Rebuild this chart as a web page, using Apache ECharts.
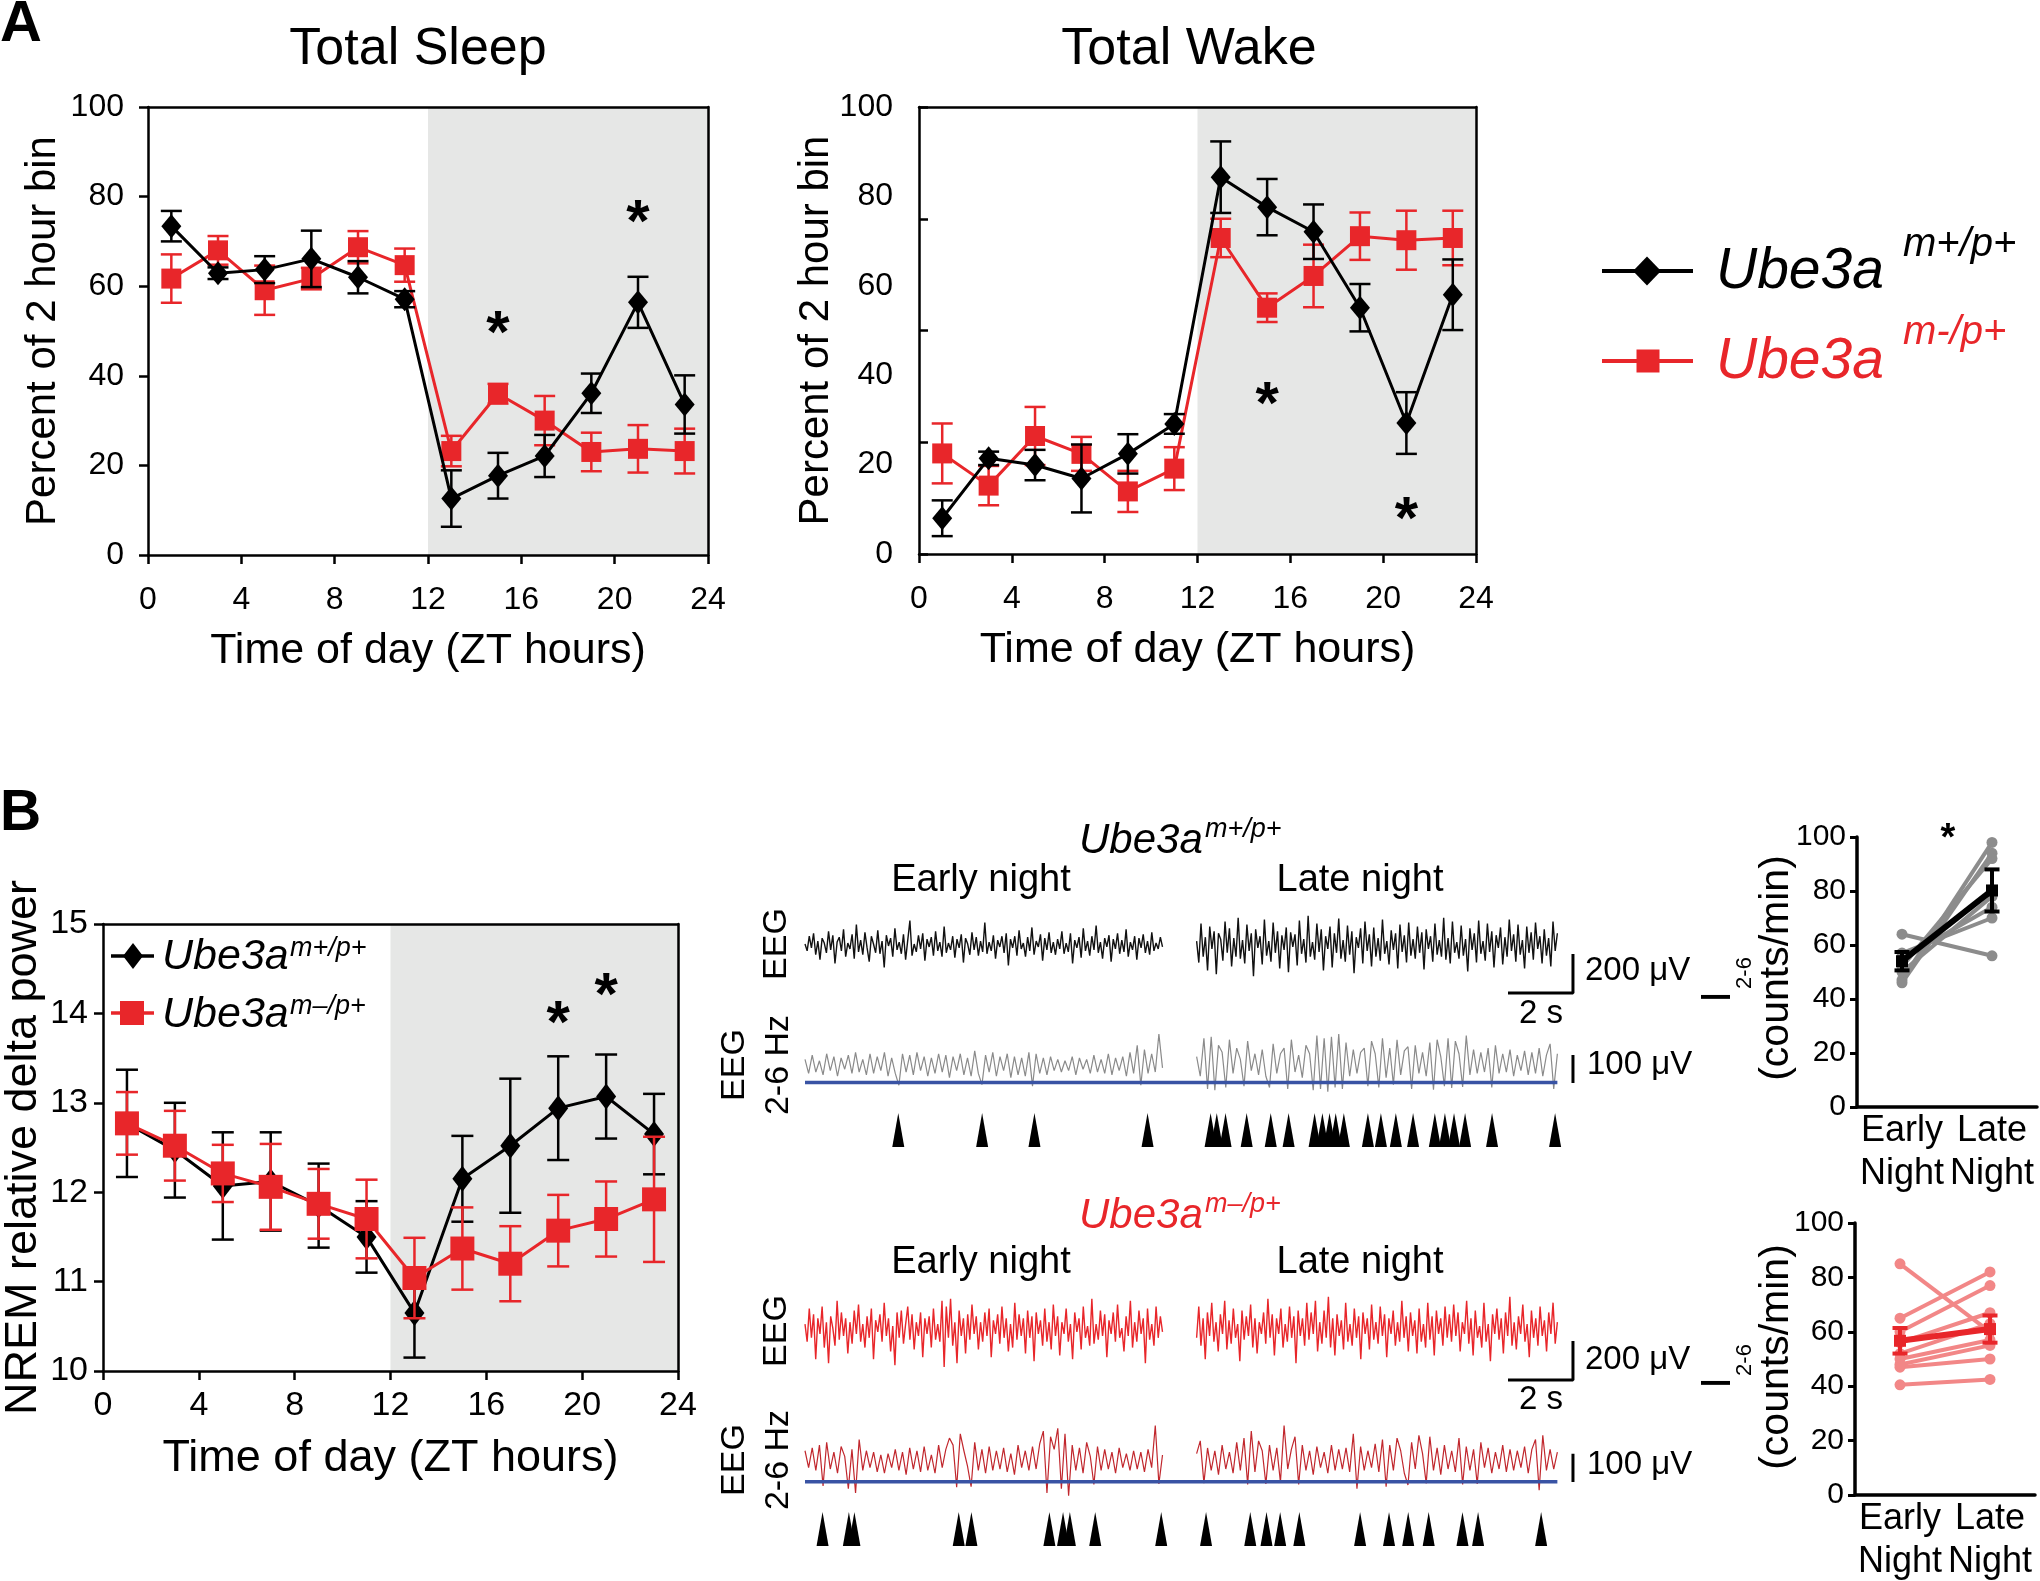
<!DOCTYPE html>
<html>
<head>
<meta charset="utf-8">
<script src="https://cdn.jsdelivr.net/npm/echarts@6/dist/echarts.min.js"></script>
<style>
html, body { margin: 0; padding: 0; background: #fff; }
#chart { width: 2040px; height: 1581px; }
</style>
</head>
<body>
<div id="chart"></div>
<script>
var FF = 'Arial, "Liberation Sans", Helvetica, sans-serif';
var RED = '#e8262a', SHADE = '#e6e7e6', BLUE = '#3953a4';

// ---- panel A / B time courses ----
var ztHours = [1, 3, 5, 7, 9, 11, 13, 15, 17, 19, 21, 23];
var sleepWT = [73.4, 62.9, 63.7, 66.1, 62.0, 57.1, 12.6, 17.7, 22.1, 36.1, 56.4, 33.6];
var sleepWTErr = [3.4, 1.3, 3.0, 6.3, 3.6, 1.8, 6.3, 5.1, 4.7, 4.4, 5.7, 6.5];
var sleepKO = [61.7, 68.0, 59.1, 61.7, 68.7, 64.7, 23.2, 36.0, 30.0, 23.0, 23.7, 23.2];
var sleepKOErr = [5.4, 3.2, 5.5, 2.4, 3.6, 3.7, 3.4, 2.2, 5.5, 4.3, 5.3, 5.0];
var wakeWT = [8.0, 21.4, 19.9, 16.9, 22.4, 29.1, 84.3, 77.6, 72.1, 55.1, 29.3, 58.0];
var wakeWTErr = [4.0, 1.5, 3.4, 7.6, 4.4, 2.2, 8.0, 6.3, 6.1, 5.3, 6.9, 7.9];
var wakeKO = [22.5, 15.3, 26.4, 22.4, 14.0, 19.1, 70.7, 55.1, 62.2, 71.1, 70.2, 70.7];
var wakeKOErr = [6.7, 4.4, 6.5, 3.8, 4.6, 4.8, 4.3, 3.2, 7.0, 5.3, 6.6, 6.1];
var deltaWT = [12.77, 12.47, 12.07, 12.12, 11.85, 11.50, 10.65, 12.15, 12.52, 12.94, 13.07, 12.65];
var deltaWTErr = [0.60, 0.53, 0.60, 0.55, 0.47, 0.40, 0.50, 0.48, 0.75, 0.58, 0.47, 0.45];
var deltaKO = [12.77, 12.52, 12.21, 12.06, 11.87, 11.70, 11.04, 11.37, 11.20, 11.57, 11.70, 11.92];
var deltaKOErr = [0.35, 0.39, 0.32, 0.48, 0.39, 0.44, 0.45, 0.46, 0.42, 0.40, 0.42, 0.70];
var sleepStars = [[15, 52.2], [21, 77.0]];
var wakeStars = [[15, 36.1], [21, 10.5]];
var deltaStars = [[19, 14.02], [21, 14.34]];

// ---- EEG example traces (uV), early segment 0-11 s, late 12.05-23.15 s ----
var wtRawEarly = [5,-30,45,-15,60,-50,20,-75,35,10,-40,70,-25,50,-95,15,40,-30,80,-60,10,-20,55,-70,105,-35,25,-50,65,-15,-85,45,5,-40,75,-45,20,-115,50,-5,35,-60,85,-25,15,-45,55,-75,25,125,-55,5,-35,50,-20,60,-80,30,-10,40,-55,70,-30,15,-60,95,-40,10,-25,45,-65,30,-15,55,-90,35,5,-50,65,-25,40,-55,20,-35,115,-45,15,-30,50,-70,25,-10,45,-40,60,-105,30,-15,45,-55,75,-20,10,-60,40,-30,90,-50,20,-10,55,-80,35,-25,65,-40,15,-50,30,-20,70,-45,10,-35,60,-95,25,-15,40,-65,85,-30,20,-55,45,-25,100,-40,15,-70,35,-10,50,-85,30,-20,60,-45,25,-35,80,-60,15,-25,45,-75,35,-15,55,-40,20,-50,65,-30,10,-20,40,-10];
var wtRawLate = [20,-90,110,-60,40,-130,95,-20,70,-150,60,30,-80,120,-40,85,-110,35,-60,140,-70,25,-95,105,-30,60,-160,80,-15,45,-100,130,-55,20,-85,115,-40,70,-120,50,-25,90,-140,65,-10,55,-105,125,-45,30,-90,150,-60,15,-75,110,-35,80,-130,45,-20,95,-115,60,-40,135,-70,25,-85,100,-50,70,-145,40,-15,85,-95,120,-30,55,-110,90,-60,35,-80,130,-45,20,-100,75,-25,60,-120,105,-35,50,-90,115,-55,30,-70,95,-40,65,-125,80,-20,45,-85,110,-50,25,-60,140,-75,35,-95,120,-40,15,-70,100,-55,30,-135,85,-25,60,-90,125,-45,20,-80,110,-35,70,-115,50,-15,90,-100,40,-60,130,-30,55,-85,105,-50,25,-120,95,-40,65,-75,115,-20,45,-95,80,-55,35,-110,120,-30,60];
var wtFiltEarly = [20,-30,35,-25,15,-35,40,-20,30,-40,25,-15,35,-30,45,-25,20,-35,40,-30,30,-20,45,-40,25,-30,-72,40,-25,35,-35,45,-20,30,-40,25,-30,40,-25,35,-45,30,-20,40,-35,25,-40,50,-30,-70,35,-25,45,-40,30,-20,40,-45,30,-35,25,-40,45,-75,40,-30,25,-35,30,-20,20,-25,15,-20,30,-35,25,-15,20,-30,35,-25,20,-30,40,-35,25,-20,30,-40,45,-30,70,-72,55,-30,40,-25,110,-10];
var wtFiltLate = [30,-40,95,-85,100,-90,70,45,-80,90,-30,60,20,-75,85,-20,40,-35,55,-40,-80,75,-30,40,60,-85,90,-25,35,-45,70,40,-90,105,-85,95,-95,100,-80,110,-85,80,-40,55,-30,45,60,-75,85,40,-80,95,-45,60,-70,90,-35,50,65,-85,70,-30,45,-40,80,-88,90,30,-75,95,-82,85,40,-78,105,-35,55,-30,45,-25,60,-80,70,-30,40,-25,55,-40,35,-20,50,-35,45,-30,60,-40,35,75,-85,40];
var koRawEarly = [30,-60,110,-40,80,-150,60,-20,120,-90,40,-170,70,10,-80,150,-50,90,-30,60,-120,40,-70,100,-20,130,-60,30,-90,70,-40,110,-150,50,-10,80,-60,140,-30,60,-110,20,-180,90,-40,100,-70,30,120,-50,80,-100,40,-30,90,-140,60,-20,70,-90,110,-50,30,-60,150,-190,120,-40,160,-80,40,-170,100,-30,60,-120,80,-50,130,-20,70,-100,40,-60,90,-30,110,-140,50,-20,80,-70,120,-40,60,-110,30,-90,140,-50,80,-30,60,-120,100,-40,70,-160,90,-20,50,-80,110,-60,40,-100,130,-30,70,-130,40,-20,110,-60,30,-150,90,-10,60,-100,120,-40,20,-80,160,-70,30,-50,100,-30,80,-140,50,-20,90,-60,130,-40,10,-110,70,-30,150,-90,40,-60,100,-20,60,-170,110,-50,30,-80,120,-40,70,-10];
var koRawLate = [-40,120,-80,60,-150,90,-30,140,-60,40,-110,80,-20,150,-100,50,-70,110,-40,30,-160,100,-50,70,-30,130,-90,60,-120,40,-20,90,-70,160,-40,80,-130,60,-20,110,-90,30,-60,120,-40,70,-170,100,-30,60,-80,140,-50,90,-20,150,-110,40,-70,100,-40,170,-90,60,-130,80,-30,50,-100,140,-60,30,-80,110,-40,70,-150,90,-20,60,-100,130,-50,40,-70,120,-30,80,-140,60,-20,100,-80,40,-60,150,-40,70,-110,90,-30,50,-120,110,-60,30,-90,140,-50,70,-130,100,-20,60,-80,120,-40,80,-60,130,-30,90,-110,40,-20,150,-70,60,-130,100,-40,20,-90,140,-60,30,-160,80,-20,110,-50,60,-120,90,-30,170,-80,40,-100,70,-20,130,-60,30,-140,100,-40,60,-80,120,-30,50,-110,90,-20,140,-70,40];
var koFiltEarly = [40,-20,50,-30,60,-85,70,-25,35,-40,55,20,-95,45,-110,80,-30,40,-20,35,-35,25,-40,30,-20,45,-30,35,-45,50,-25,40,-35,55,-30,25,-40,60,-20,45,85,60,-90,100,40,-15,-88,70,-30,45,-40,55,-30,40,-25,50,-35,30,-45,60,-20,40,-30,55,-25,65,110,-110,90,45,120,-95,100,-120,60,-30,50,-40,70,20,-80,55,-30,45,-25,35,-40,50,-20,30,-30,40,-25,35,-35,45,-20,130,-78,25];
var koFiltLate = [30,75,-75,50,-30,40,-45,60,-25,35,-40,70,-30,85,-80,110,-35,75,40,-78,60,-30,50,-72,130,-25,45,90,-80,60,-30,40,-45,55,-20,35,-40,60,-30,45,-25,50,-35,100,-95,55,-30,40,-20,65,-35,80,-88,60,-30,85,40,-40,-82,70,-25,95,30,-76,90,-30,50,-45,60,-25,40,-35,85,-80,55,-30,45,-78,70,-20,50,-40,35,-25,60,-35,45,-30,40,-20,55,-40,45,80,-100,95,-30,45,-25,35];
var wtThreshold = -62, koThreshold = -70;
// detected events (s)
var wtEvents = [2.87, 5.45, 7.06, 10.54, 12.48, 12.67, 12.94, 13.59, 14.33, 14.88, 15.68, 15.92, 16.14, 16.33, 16.58, 17.32, 17.72, 18.18, 18.71, 19.38, 19.69, 19.97, 20.31, 21.14, 23.08];
var koEvents = [0.54, 1.35, 1.52, 4.73, 5.12, 7.52, 7.94, 8.15, 8.93, 10.96, 12.34, 13.70, 14.20, 14.62, 15.21, 17.08, 17.97, 18.56, 19.19, 20.23, 20.71, 22.65];

// ---- I2-6 event rates ----
var nightCats = ['Early\nNight', 'Late\nNight'];
var wtEarly = [64, 47, 46, 52, 50, 55, 57];
var wtLate = [56, 98, 94, 92, 78, 74, 70];
var wtMean = [54.0, 80.2];
var wtErr = [3.4, 7.8];
var koEarly = [85, 65, 60, 56, 52, 50, 48, 47, 40.5];
var koLate = [60, 82, 77, 67, 63, 57, 55, 50, 42.5];
var koMean = [56.7, 61.0];
var koErr = [4.7, 5.0];

function zip(xs, ys) { return xs.map(function (x, i) { return [x, ys[i]]; }); }
function zip3(xs, ys, es) { return xs.map(function (x, i) { return [x, ys[i], es[i]]; }); }
function toXY(vals, t0, t1) {
  var n = vals.length;
  return vals.map(function (v, i) { return [t0 + (t1 - t0) * i / (n - 1), v]; });
}

function errBars(capW, color, lw) {
  return function (params, api) {
    var x = api.value(0), m = api.value(1), e = api.value(2);
    var hi = api.coord([x, m + e]), lo = api.coord([x, m - e]);
    var h = capW / 2, st = { stroke: color, lineWidth: lw };
    return { type: 'group', children: [
      { type: 'line', shape: { x1: hi[0], y1: hi[1], x2: lo[0], y2: lo[1] }, style: st },
      { type: 'line', shape: { x1: hi[0] - h, y1: hi[1], x2: hi[0] + h, y2: hi[1] }, style: st },
      { type: 'line', shape: { x1: lo[0] - h, y1: lo[1], x2: lo[0] + h, y2: lo[1] }, style: st }
    ] };
  };
}

function timeAxis(g, fs, nfs, margin, gap) {
  return { gridIndex: g, type: 'value', min: 0, max: 24, interval: 4, z: 10,
    axisLine: { show: true, onZero: false, lineStyle: { color: '#000', width: 2.5 } },
    axisTick: { show: true, length: 9, lineStyle: { color: '#000', width: 2.5 } },
    axisLabel: { fontSize: fs, color: '#000', fontFamily: FF, margin: margin },
    splitLine: { show: false },
    name: 'Time of day (ZT hours)', nameLocation: 'middle', nameGap: gap, nameMoveOverlap: false,
    nameTextStyle: { fontSize: nfs, color: '#000', fontFamily: FF } };
}
function valAxis(g, min, max, interval, fs, margin, name, nfs, gap) {
  return { gridIndex: g, type: 'value', min: min, max: max, interval: interval, z: 10,
    axisLine: { show: true, onZero: false, lineStyle: { color: '#000', width: 2.5 } },
    axisTick: { show: true, length: 9, lineStyle: { color: '#000', width: 2.5 } },
    axisLabel: { fontSize: fs, color: '#000', fontFamily: FF, margin: margin },
    splitLine: { show: false },
    name: name, nameLocation: 'middle', nameGap: gap, nameMoveOverlap: false,
    nameTextStyle: { fontSize: nfs, color: '#000', fontFamily: FF } };
}
function boxAxis(g, pos, min, max) {
  return { gridIndex: g, type: 'value', position: pos, min: min, max: max, z: 10,
    axisLine: { show: true, onZero: false, lineStyle: { color: '#000', width: 2.5 } },
    axisTick: { show: false }, axisLabel: { show: false }, splitLine: { show: false } };
}
function hidden(g, min, max) { return { gridIndex: g, type: 'value', min: min, max: max, show: false }; }
function nightX(g) {
  return { gridIndex: g, type: 'category', data: nightCats, boundaryGap: true, z: 10,
    axisLine: { show: true, lineStyle: { color: '#000', width: 3.5 } },
    axisTick: { show: false },
    axisLabel: { fontSize: 36, lineHeight: 43, color: '#000', fontFamily: FF, margin: 3, interval: 0 } };
}
function countY(g) {
  return { gridIndex: g, type: 'value', min: 0, max: 100, interval: 20, z: 10,
    axisLine: { show: true, lineStyle: { color: '#000', width: 3.5 } },
    axisTick: { show: true, length: 7, lineStyle: { color: '#000', width: 3 } },
    axisLabel: { fontSize: 30, color: '#000', fontFamily: FF, margin: 11 },
    splitLine: { show: false } };
}

var grids = [
  { left: 148, top: 107, width: 560, height: 448 },   // 0 sleep
  { left: 919, top: 107, width: 557, height: 447 },   // 1 wake
  { left: 103, top: 924, width: 575, height: 447 },   // 2 delta
  { left: 805, top: 880, width: 780, height: 130 },   // 3 wt raw
  { left: 805, top: 1020, width: 780, height: 90 },   // 4 wt 2-6 Hz
  { left: 805, top: 1113, width: 780, height: 34 },   // 5 wt events
  { left: 805, top: 1265, width: 780, height: 130 },  // 6 ko raw
  { left: 805, top: 1417, width: 780, height: 90 },   // 7 ko 2-6 Hz
  { left: 805, top: 1513, width: 780, height: 32 },   // 8 ko events
  { left: 1857, top: 837, width: 180, height: 270 },  // 9 wt rates
  { left: 1855, top: 1223, width: 180, height: 272 }  // 10 ko rates
];
grids.forEach(function (g) { g.outerBoundsMode = 'none'; g.containLabel = false; });

var xAxes = [
  timeAxis(0, 32, 43, 29, 75), boxAxis(0, 'top', 0, 24),
  timeAxis(1, 32, 43, 29, 75), boxAxis(1, 'top', 0, 24),
  timeAxis(2, 34, 45, 18, 65), boxAxis(2, 'top', 0, 24),
  hidden(3, 0, 24), hidden(4, 0, 24), hidden(5, 0, 24),
  hidden(6, 0, 24), hidden(7, 0, 24), hidden(8, 0, 24),
  nightX(9), nightX(10)
];
var wakeTicks = { gridIndex: 1, type: 'value', min: 0, max: 100, interval: 25, z: 10,
  axisLine: { show: false }, axisLabel: { show: false }, splitLine: { show: false },
  axisTick: { show: true, length: 9, lineStyle: { color: '#000', width: 2.5 } } };
var wakeLabels = valAxis(1, 0, 100, 20, 32, 26, 'Percent of 2 hour bin', 42, 82);
wakeLabels.axisTick = { show: false };
var yAxes = [
  valAxis(0, 0, 100, 20, 32, 24, 'Percent of 2 hour bin', 42, 84), boxAxis(0, 'right', 0, 100),
  wakeLabels, boxAxis(1, 'right', 0, 100), wakeTicks,
  valAxis(2, 10, 15, 1, 34, 15, 'NREM relative delta power', 45, 57), boxAxis(2, 'right', 10, 15),
  hidden(3, -333, 333), hidden(4, -160, 160), hidden(5, 0, 1),
  hidden(6, -333, 333), hidden(7, -160, 160), hidden(8, 0, 1),
  countY(9), countY(10)
];

var series = [];
function shade(xi, yi) {
  series.push({ type: 'line', xAxisIndex: xi, yAxisIndex: yi, data: [], z: 1, silent: true,
    markArea: { silent: true, itemStyle: { color: SHADE }, data: [[{ xAxis: 12 }, { xAxis: 24 }]] } });
}
function course(xi, yi, ys, es, color, symbol, size, cap, z) {
  series.push({ type: 'custom', xAxisIndex: xi, yAxisIndex: yi, data: zip3(ztHours, ys, es),
    renderItem: errBars(cap, color, 2.5), z: z, silent: true });
  series.push({ type: 'line', xAxisIndex: xi, yAxisIndex: yi, data: zip(ztHours, ys),
    symbol: symbol, symbolSize: size, showAllSymbol: true,
    lineStyle: { color: color, width: 3 }, itemStyle: { color: color, opacity: 1 }, z: z + 1, silent: true });
}
function stars(xi, yi, pts) {
  series.push({ type: 'scatter', xAxisIndex: xi, yAxisIndex: yi, data: pts, symbolSize: 1, z: 8, silent: true,
    itemStyle: { color: 'rgba(0,0,0,0)', opacity: 1 },
    label: { show: true, position: 'inside', formatter: '*', fontSize: 60, fontWeight: 'bold', opacity: 1,
      fontFamily: FF, color: '#000', offset: [0, 14] } });
}

shade(0, 0);
course(0, 0, sleepKO, sleepKOErr, RED, 'rect', 20, 21, 2);
course(0, 0, sleepWT, sleepWTErr, '#000', 'diamond', [20, 24], 21, 4);
stars(0, 0, sleepStars);

shade(2, 2);
course(2, 2, wakeKO, wakeKOErr, RED, 'rect', 20, 21, 2);
course(2, 2, wakeWT, wakeWTErr, '#000', 'diamond', [20, 24], 21, 4);
stars(2, 2, wakeStars);

shade(4, 5);
course(4, 5, deltaWT, deltaWTErr, '#000', 'diamond', [20, 26], 22, 2);
course(4, 5, deltaKO, deltaKOErr, RED, 'rect', 24, 22, 4);
stars(4, 5, deltaStars);

function eegRow(xr, yr, xf, yf, xe, ye, rawE, rawL, fE, fL, rawColor, fColor, thr, events, barLo, fBarLo) {
  [toXY(rawE, 0, 11), toXY(rawL, 12.05, 23.15)].forEach(function (d) {
    series.push({ type: 'line', xAxisIndex: xr, yAxisIndex: yr, data: d, symbol: 'none', silent: true,
      lineStyle: { color: rawColor, width: 1.4 } });
  });
  [toXY(fE, 0, 11), toXY(fL, 12.05, 23.15)].forEach(function (d) {
    series.push({ type: 'line', xAxisIndex: xf, yAxisIndex: yf, data: d, symbol: 'none', silent: true,
      lineStyle: { color: fColor, width: 1.2 } });
  });
  series.push({ type: 'line', xAxisIndex: xf, yAxisIndex: yf, data: [[0, thr], [23.15, thr]], symbol: 'none',
    silent: true, z: 3, lineStyle: { color: BLUE, width: 3.5 } });
  // scale bars: 2 s x 200 uV (raw), 100 uV (2-6 Hz)
  series.push({ type: 'line', xAxisIndex: xr, yAxisIndex: yr, symbol: 'none', silent: true,
    data: [[21.63, barLo], [23.63, barLo], [23.63, barLo + 200]], lineStyle: { color: '#000', width: 3 } });
  series.push({ type: 'line', xAxisIndex: xf, yAxisIndex: yf, symbol: 'none', silent: true,
    data: [[23.63, fBarLo], [23.63, fBarLo + 100]], lineStyle: { color: '#000', width: 3 } });
  series.push({ type: 'scatter', xAxisIndex: xe, yAxisIndex: ye, silent: true,
    data: events.map(function (t) { return [t, 0.5]; }),
    symbol: 'triangle', symbolSize: [12, 34], itemStyle: { color: '#000', opacity: 1 } });
}
eegRow(6, 7, 7, 8, 8, 9, wtRawEarly, wtRawLate, wtFiltEarly, wtFiltLate, '#111', '#8a8a8a', wtThreshold, wtEvents, -246, -64);
eegRow(9, 10, 10, 11, 11, 12, koRawEarly, koRawLate, koFiltEarly, koFiltLate, RED, '#c1272d', koThreshold, koEvents, -256, -71);

function rates(xi, yi, early, late, mean, err, light, dark) {
  early.forEach(function (v, i) {
    series.push({ type: 'line', xAxisIndex: xi, yAxisIndex: yi, data: [v, late[i]], silent: true,
      symbol: 'circle', symbolSize: 11, lineStyle: { color: light, width: 4 }, itemStyle: { color: light }, z: 2 });
  });
  series.push({ type: 'line', xAxisIndex: xi, yAxisIndex: yi, data: mean, silent: true,
    symbol: 'rect', symbolSize: 12, lineStyle: { color: dark, width: 6 }, itemStyle: { color: dark }, z: 4 });
  series.push({ type: 'custom', xAxisIndex: xi, yAxisIndex: yi, silent: true, z: 4,
    data: [[0, mean[0], err[0]], [1, mean[1], err[1]]], renderItem: errBars(15, dark, 4) });
}
rates(12, 13, wtEarly, wtLate, wtMean, wtErr, '#8c8c8c', '#000');
rates(13, 14, koEarly, koLate, koMean, koErr, '#f28787', RED);

// ---- text and legend graphics ----
function T(x, y, text, size, o) {
  o = o || {};
  var el = { type: 'text', x: x, y: y, z: 100, silent: true,
    style: { text: text, fontSize: size, fontFamily: FF, fill: o.fill || '#000',
      fontStyle: o.italic ? 'italic' : 'normal', fontWeight: o.bold ? 'bold' : 'normal',
      align: o.align || 'center', verticalAlign: 'middle' } };
  if (o.rot) el.rotation = o.rot;
  return el;
}
function L(x1, y1, x2, y2, c, w) {
  return { type: 'line', z: 100, silent: true, shape: { x1: x1, y1: y1, x2: x2, y2: y2 }, style: { stroke: c, lineWidth: w } };
}
function diamond(cx, cy, w, h) {
  return { type: 'polygon', z: 101, silent: true,
    shape: { points: [[cx, cy - h / 2], [cx + w / 2, cy], [cx, cy + h / 2], [cx - w / 2, cy]] }, style: { fill: '#000' } };
}
function square(cx, cy, s, c) {
  return { type: 'rect', z: 101, silent: true, shape: { x: cx - s / 2, y: cy - s / 2, width: s, height: s }, style: { fill: c } };
}
var R90 = Math.PI / 2;
var graphics = [
  T(0, 25, 'A', 58, { bold: true, align: 'left' }),
  T(0, 814, 'B', 57, { bold: true, align: 'left' }),
  T(418, 50, 'Total Sleep', 52),
  T(1189, 50, 'Total Wake', 52),
  // legend A
  L(1602, 271, 1693, 271, '#000', 4), diamond(1647, 271, 28, 29),
  T(1716, 272, 'Ube3a', 57, { italic: true, align: 'left' }),
  T(1903, 245, 'm+/p+', 40, { italic: true, align: 'left' }),
  L(1602, 361, 1693, 361, RED, 4), square(1648, 361, 23, RED),
  T(1716, 362, 'Ube3a', 57, { italic: true, align: 'left', fill: RED }),
  T(1903, 333, 'm-/p+', 40, { italic: true, align: 'left', fill: RED }),
  // legend B
  L(111, 956, 154, 956, '#000', 3.5), diamond(133, 956, 20, 26),
  T(162, 957, 'Ube3a', 43, { italic: true, align: 'left' }),
  T(290, 948, 'm+/p+', 27, { italic: true, align: 'left' }),
  L(111, 1013, 154, 1013, RED, 3.5), square(132, 1013, 24, RED),
  T(162, 1015, 'Ube3a', 43, { italic: true, align: 'left' }),
  T(290, 1006, 'm\u2013/p+', 27, { italic: true, align: 'left' }),
  // EEG headings
  T(1079, 841, 'Ube3a', 42, { italic: true, align: 'left' }),
  T(1205, 829, 'm+/p+', 27, { italic: true, align: 'left' }),
  T(1079, 1216, 'Ube3a', 42, { italic: true, align: 'left', fill: RED }),
  T(1205, 1204, 'm\u2013/p+', 27, { italic: true, align: 'left', fill: RED }),
  T(981, 881, 'Early night', 38), T(1360, 881, 'Late night', 38),
  T(981, 1263, 'Early night', 38), T(1360, 1263, 'Late night', 38),
  T(777, 944, 'EEG', 34, { rot: R90 }),
  T(735, 1065, 'EEG', 34, { rot: R90 }), T(779, 1065, '2-6 Hz', 34, { rot: R90 }),
  T(777, 1331, 'EEG', 34, { rot: R90 }),
  T(735, 1460, 'EEG', 34, { rot: R90 }), T(779, 1460, '2-6 Hz', 34, { rot: R90 }),
  T(1541, 1014, '2 s', 33), T(1541, 1400, '2 s', 33),
  T(1585, 971, '200 \u03bcV', 33, { align: 'left' }), T(1587, 1065, '100 \u03bcV', 33, { align: 'left' }),
  T(1585, 1360, '200 \u03bcV', 33, { align: 'left' }), T(1587, 1465, '100 \u03bcV', 33, { align: 'left' }),
  // rate axis names
  T(1718, 997, 'I', 42, { rot: R90 }), T(1745, 973, '2-6', 22, { rot: R90 }),
  T(1777, 968, '(counts/min)', 41, { rot: R90 }),
  T(1718, 1383, 'I', 42, { rot: R90 }), T(1745, 1360, '2-6', 22, { rot: R90 }),
  T(1777, 1357, '(counts/min)', 41, { rot: R90 }),
  T(1948, 840, '*', 38, { bold: true })
];

var chart = echarts.init(document.getElementById('chart'), null, { renderer: 'canvas' });
chart.setOption({
  animation: false,
  backgroundColor: '#fff',
  textStyle: { fontFamily: FF },
  grid: grids,
  xAxis: xAxes,
  yAxis: yAxes,
  series: series,
  graphic: { elements: graphics }
});
</script>
</body>
</html>
